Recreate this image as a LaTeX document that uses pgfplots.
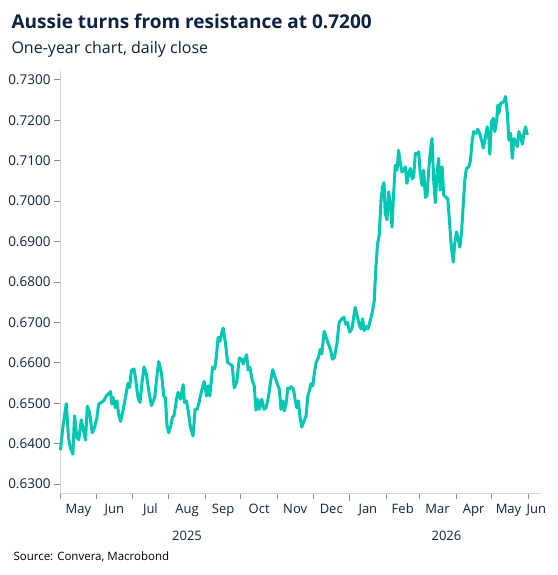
\documentclass[border=0pt]{standalone}
\usepackage{pgfplots}
\pgfplotsset{compat=1.18}
\usepackage{fontspec}
\setmainfont{Open Sans}
\definecolor{navy}{HTML}{0D2240}
\definecolor{tealline}{HTML}{00C7B1}
\definecolor{axgray}{HTML}{D6D6D6}
\definecolor{tickgray}{HTML}{8C8C8C}
\pgfplotstableread{
day value
0.4 0.6384
2.4 0.6440
5.3 0.6499
7.2 0.6415
8.7 0.6390
10.9 0.6374
12.3 0.6469
14.3 0.6415
15.9 0.6410
18.0 0.6459
19.9 0.6432
21.6 0.6409
23.1 0.6493
25.0 0.6477
27.3 0.6427
29.3 0.6441
31.2 0.6464
32.7 0.6498
34.9 0.6502
36.9 0.6506
39.2 0.6518
41.1 0.6524
42.8 0.6529
43.9 0.6498
45.1 0.6514
46.8 0.6489
48.2 0.6506
49.6 0.6473
51.3 0.6455
53.3 0.6481
55.6 0.6518
57.5 0.6549
58.9 0.6539
60.4 0.6582
62.6 0.6585
64.0 0.6560
66.0 0.6514
67.7 0.6502
69.4 0.6551
71.1 0.6590
73.1 0.6572
75.1 0.6531
77.4 0.6494
80.1 0.6514
81.6 0.6556
83.5 0.6603
85.8 0.6576
87.8 0.6518
89.2 0.6513
90.6 0.6444
92.0 0.6427
93.7 0.6444
95.2 0.6466
96.5 0.6469
98.6 0.6510
99.9 0.6527
102.0 0.6510
104.2 0.6546
105.3 0.6502
107.0 0.6506
108.7 0.6477
110.4 0.6440
112.6 0.6419
114.3 0.6485
116.0 0.6485
117.7 0.6502
119.8 0.6531
122.0 0.6554
124.0 0.6518
125.4 0.6543
126.8 0.6518
129.1 0.6589
131.0 0.6585
132.5 0.6622
133.8 0.6663
135.3 0.6653
136.7 0.6672
138.1 0.6686
140.1 0.6647
141.8 0.6601
143.8 0.6597
145.7 0.6593
147.4 0.6538
149.5 0.6551
151.7 0.6612
153.7 0.6609
155.0 0.6597
156.5 0.6610
157.9 0.6620
159.3 0.6582
160.7 0.6589
162.7 0.6556
164.4 0.6543
165.8 0.6483
167.3 0.6510
168.6 0.6485
170.7 0.6510
172.6 0.6485
174.3 0.6489
176.3 0.6514
178.3 0.6556
180.0 0.6583
182.0 0.6564
183.9 0.6548
185.6 0.6535
187.0 0.6485
188.5 0.6506
189.8 0.6481
191.3 0.6498
192.7 0.6538
194.1 0.6535
195.5 0.6541
197.5 0.6535
198.9 0.6510
200.3 0.6489
201.7 0.6506
203.1 0.6465
204.6 0.6441
206.5 0.6456
208.2 0.6469
209.7 0.6518
211.0 0.6531
212.5 0.6549
213.9 0.6543
215.3 0.6576
216.7 0.6601
218.7 0.6613
220.1 0.6633
221.5 0.6622
223.5 0.6678
225.2 0.6663
227.1 0.6647
229.2 0.6630
230.5 0.6609
232.2 0.6613
234.3 0.6647
236.2 0.6700
238.5 0.6709
240.2 0.6713
241.9 0.6695
243.3 0.6700
245.0 0.6676
247.0 0.6684
249.8 0.6737
251.7 0.6713
253.4 0.6692
254.9 0.6684
256.0 0.6709
257.4 0.6680
259.1 0.6690
260.6 0.6684
262.5 0.6704
264.5 0.6729
265.9 0.6754
267.3 0.6837
268.7 0.6895
270.1 0.6915
271.6 0.7002
272.9 0.7035
274.1 0.7046
275.2 0.6969
276.7 0.6954
278.0 0.7023
279.5 0.6994
280.9 0.6936
282.3 0.7019
283.7 0.7089
285.2 0.7077
286.5 0.7126
288.0 0.7093
289.4 0.7072
290.8 0.7078
292.2 0.7085
293.6 0.7044
295.0 0.7068
296.4 0.7081
297.9 0.7056
299.2 0.7059
300.7 0.7118
302.1 0.7116
303.5 0.7122
304.9 0.7068
306.4 0.7039
307.7 0.7077
309.2 0.7009
310.6 0.7015
312.0 0.7077
313.4 0.7126
314.8 0.7155
316.2 0.7052
317.6 0.6996
319.0 0.7068
320.4 0.7106
321.6 0.7027
323.3 0.7085
324.7 0.7015
326.1 0.7011
328.1 0.7006
329.5 0.6953
331.0 0.6891
332.7 0.6849
334.0 0.6895
335.5 0.6924
336.9 0.6907
338.3 0.6886
339.7 0.6920
341.1 0.6986
342.5 0.7052
343.9 0.7081
345.9 0.7085
347.3 0.7101
348.8 0.7151
350.1 0.7172
352.2 0.7168
353.5 0.7178
355.2 0.7166
356.7 0.7151
358.1 0.7131
360.1 0.7160
361.5 0.7184
362.9 0.7155
363.7 0.7116
365.1 0.7197
366.6 0.7205
367.9 0.7172
369.4 0.7197
370.5 0.7238
371.3 0.7217
372.8 0.7242
374.2 0.7244
375.6 0.7246
377.0 0.7259
378.5 0.7217
379.8 0.7151
381.3 0.7168
382.7 0.7106
384.1 0.7155
385.5 0.7147
387.0 0.7135
388.3 0.7172
389.8 0.7160
391.2 0.7141
392.5 0.7168
394.0 0.7184
395.4 0.7164
}\audusd
\begin{document}
\begin{tikzpicture}[x=1pt,y=1pt]
\path (-60,-82) rectangle (497,493);
\begin{axis}[
  at={(0,0)}, anchor=south west,
  scale only axis, width=481pt, height=422pt,
  xmin=0, xmax=407, ymin=0.6278, ymax=0.7322,
  axis x line*=bottom, axis y line*=left,
  axis line style={axgray, line width=1pt},
  tick align=outside,
  every tick/.style={tickgray, line width=0.8pt},
  ytick={0.63,0.64,0.65,0.66,0.67,0.68,0.69,0.70,0.71,0.72,0.73},
  y tick label style={/pgf/number format/fixed, /pgf/number format/fixed zerofill, /pgf/number format/precision=4, /pgf/number format/assume math mode=true, font=\fontsize{13.5}{14}\selectfont, color=navy},
  major tick length=6pt,
  xtick={0,31,61,92,123,153,184,214,245,276,304,335,365,396},
  xticklabels={},
  minor xtick={245},
  minor tick length=8pt,
  extra x ticks={15.5,46,76.5,107.5,138,168.5,199,229.5,260.5,290,319.5,350,379.5,403},
  extra x tick labels={May,Jun,Jul,Aug,Sep,Oct,Nov,Dec,Jan,Feb,Mar,Apr,May,Jun},
  extra x tick style={major tick length=0pt},
  x tick label style={font=\fontsize{13}{14}\selectfont, color=navy, anchor=base, yshift=-20pt},
  clip=false,
]
\addplot[tealline, line width=3pt, line join=round] table[x=day, y=value] {\audusd};
\node[anchor=base, font=\fontsize{13}{14}\selectfont, color=navy] at (axis cs:107.5,0.6278) [yshift=-47pt] {2025};
\node[anchor=base, font=\fontsize{13}{14}\selectfont, color=navy] at (axis cs:327,0.6278) [yshift=-47pt] {2026};
\end{axis}
\node[anchor=base west, font=\bfseries\fontsize{19}{20}\selectfont, color=navy] at (-52,464) {Aussie turns from resistance at 0.7200};
\node[anchor=base west, font=\fontsize{16}{17}\selectfont, color=navy] at (-52,439) {One-year chart, daily close};
\node[anchor=base west, font=\fontsize{11.5}{12}\selectfont, color=black] at (-50,-67) {Source: Convera, Macrobond};
\end{tikzpicture}
\end{document}
